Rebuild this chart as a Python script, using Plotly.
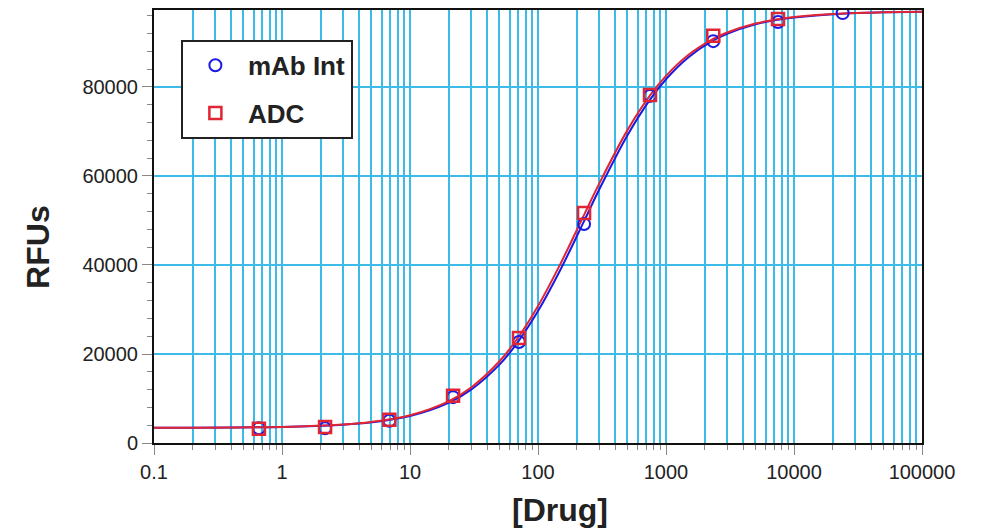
import plotly.graph_objects as go

# Measured data points
conc = [0.66, 2.17, 6.9, 21.7, 71, 229, 750, 2340, 7500, 24000]
mab_rfu = [3300, 3300, 5000, 10300, 22700, 49200, 78000, 90300, 94600, 96600]
adc_rfu = [3200, 3600, 5200, 10600, 23600, 51700, 78200, 91500, 95300, 97800]

# Fitted curves
curve_x = [0.1, 1, 3, 5, 10, 20, 30, 50, 70, 100, 150, 230, 300, 500, 750,
           1000, 1500, 2300, 3000, 5000, 7500, 10000, 24000, 50000, 100000]
mab_curve = [3416, 3609, 4114, 4656, 6086, 9052, 11999, 17625, 22795, 29641,
             38989, 49973, 56892, 69175, 77175, 81745, 86696, 90340, 91961,
             94089, 95129, 95638, 96484, 96773, 96895]
adc_curve = [3417, 3622, 4157, 4731, 6246, 9374, 12478, 18376, 23717, 30785,
             40309, 51375, 58233, 70305, 78100, 82493, 87234, 90700, 92239,
             94256, 95237, 95717, 96514, 96786, 96901]

x_ticks = [0.1, 1, 10, 100, 1000, 10000, 100000]
x_tick_text = ["0.1", "1", "10", "100", "1000", "10000", "100000"]
y_ticks = [0, 20000, 40000, 60000, 80000]
y_tick_text = ["0", "20000", "40000", "60000", "80000"]

BLUE = "#1a1ae0"
RED = "#e02535"
GRID = "#3cbbe8"
FONT = "Liberation Sans, Arial, sans-serif"
TXT = "#222222"

fig = go.Figure()
fig.add_trace(go.Scatter(x=curve_x, y=mab_curve, mode="lines", line=dict(color=BLUE, width=2, shape="spline"),
                         showlegend=False, hoverinfo="skip", cliponaxis=False))
fig.add_trace(go.Scatter(x=curve_x, y=adc_curve, mode="lines", line=dict(color=RED, width=2, shape="spline"),
                         showlegend=False, hoverinfo="skip", cliponaxis=False))
fig.add_trace(go.Scatter(x=conc, y=mab_rfu, mode="markers", name="mAb Int", legendgroup="a", cliponaxis=False,
                         marker=dict(symbol="circle-open", size=12, color=BLUE, line=dict(width=2, color=BLUE))))
fig.add_trace(go.Scatter(x=conc, y=adc_rfu, mode="markers", name="ADC", legendgroup="b", cliponaxis=False,
                         marker=dict(symbol="square-open", size=12, color=RED, line=dict(width=2.5, color=RED))))

fig.update_layout(
    width=984, height=530,
    margin=dict(l=146, r=70, t=2, b=95),
    paper_bgcolor="white", plot_bgcolor="white",
    font=dict(family=FONT, color=TXT, size=20),
    legend=dict(x=0.035, y=0.931, xanchor="left", yanchor="top",
                bgcolor="white", bordercolor=TXT, borderwidth=2,
                font=dict(size=26, color=TXT, family=FONT, weight="bold"),
                tracegroupgap=11, itemwidth=55, entrywidth=140, entrywidthmode="pixels"),
    xaxis=dict(type="log", range=[-1, 5], tickvals=x_ticks, ticktext=x_tick_text,
               showgrid=False, ticks="outside", ticklen=10, tickcolor="#888888", tickwidth=1,
               showline=True, linecolor="#111111", linewidth=2, mirror=True, automargin=False,
               minor=dict(dtick="D1", ticks="outside", ticklen=5, tickcolor="#888888",
                          showgrid=True, gridcolor=GRID, gridwidth=1.5),
               zeroline=False),
    yaxis=dict(range=[0, 97300], tickvals=y_ticks, ticktext=y_tick_text,
               showgrid=True, gridcolor=GRID, gridwidth=1.5,
               ticks="outside", ticklen=10, tickcolor="#888888", automargin=False,
               showline=True, linecolor="#111111", linewidth=2, mirror=True,
               minor=dict(dtick=4000, ticks="outside", ticklen=5, tickcolor="#888888", showgrid=False),
               zeroline=False),
    annotations=[
        dict(text="<b>[Drug]</b>", xref="paper", yref="paper", x=0.529, y=-0.155,
             xanchor="center", yanchor="middle", showarrow=False,
             font=dict(size=32, color=TXT, family=FONT)),
        dict(text="<b>RFUs</b>", xref="paper", yref="paper", x=-0.151, y=0.453,
             xanchor="center", yanchor="middle", showarrow=False, textangle=-90,
             font=dict(size=32, color=TXT, family=FONT)),
    ],
)

fig.write_html("out.html")
